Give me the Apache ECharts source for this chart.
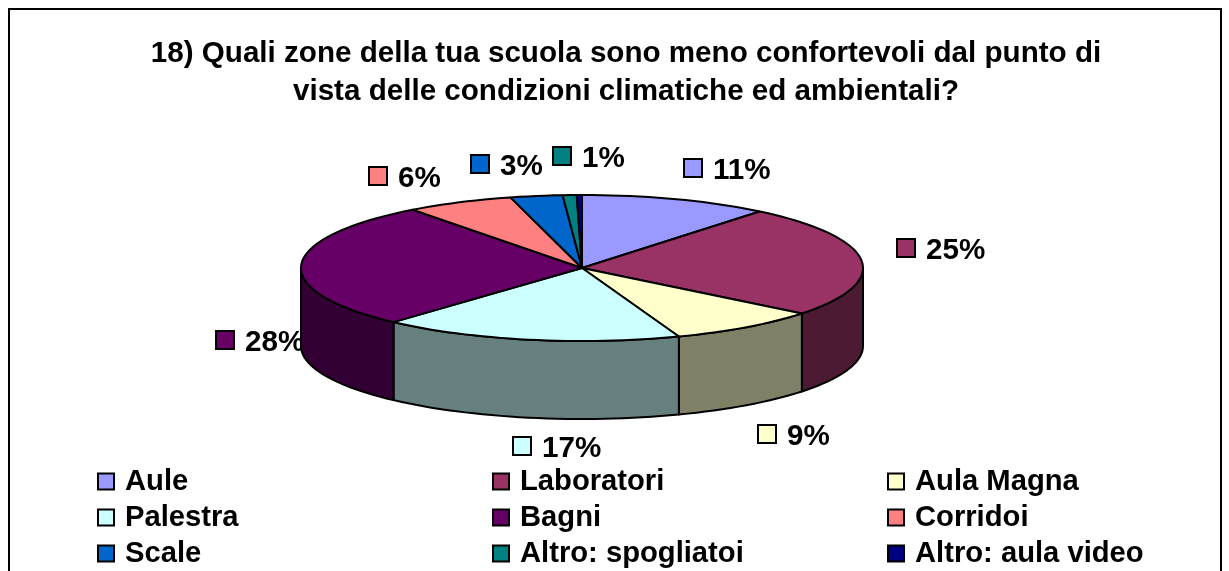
<!DOCTYPE html>
<html>
<head>
<meta charset="utf-8">
<title>Zone meno confortevoli</title>
<style>
  html, body { margin: 0; padding: 0; background: #fff; }
  #chart { width: 1229px; height: 571px; }
</style>
<script src="https://cdn.jsdelivr.net/npm/echarts@6/dist/echarts.min.js"></script>
</head>
<body>
<div id="chart"></div>
<script>
var titleText = "18) Quali zone della tua scuola sono meno confortevoli dal punto di\nvista delle condizioni climatiche ed ambientali?";
var categories = ["Aule", "Laboratori", "Aula Magna", "Palestra", "Bagni", "Corridoi", "Scale", "Altro: spogliatoi", "Altro: aula video"];
var shares = [10.9, 24.8, 8.7, 17.3, 28, 6.2, 3, 0.8, 0.3];
var topColors = ["#9999FF", "#993366", "#FFFFCC", "#CCFFFF", "#660066", "#FF8080", "#0066CC", "#008080", "#000080"];
var wallColors = ["#4D4D80", "#4D1A33", "#808066", "#668080", "#330033", "#804040", "#003366", "#004040", "#000040"];
// where each percent label sits (left edge of the key square, middle y)
var labelX = [684, 897, 758, 513, 216, 369, 471, 553, 0];
var labelY = [168, 248, 434, 446, 340, 176, 164, 156, 0];

var FONT = "'Liberation Sans', Arial, sans-serif";
var cx = 582, cy = 268, rx = 281, ry = 73, depth = 78;

var total = shares.reduce(function(a, b) { return a + b; }, 0);
var startAngles = [];
shares.reduce(function(sum, v, i) {
  startAngles[i] = (sum / total) * 360;
  return sum + v;
}, 0);

function rimPoint(deg, drop) {
  var r = (deg * Math.PI) / 180;
  return [cx + rx * Math.sin(r), cy - ry * Math.cos(r) + (drop || 0)];
}

function arcPoints(from, to, drop) {
  var pts = [];
  var steps = Math.max(2, Math.ceil((to - from) / 2));
  for (var i = 0; i <= steps; i++) {
    pts.push(rimPoint(from + ((to - from) * i) / steps, drop));
  }
  return pts;
}

function renderSlice(index) {
  var from = startAngles[index];
  var to = from + (shares[index] / total) * 360;
  var children = [];
  // only the part of the rim facing the viewer gets a wall
  var wallFrom = Math.max(from, 90);
  var wallTo = Math.min(to, 270);
  if (wallTo > wallFrom) {
    var wall = arcPoints(wallFrom, wallTo, 0).concat(arcPoints(wallFrom, wallTo, depth).reverse());
    children.push({
      type: "polygon",
      shape: { points: wall },
      style: { fill: wallColors[index], stroke: "#000", lineWidth: 2, lineJoin: "round" }
    });
  }
  children.push({
    type: "polygon",
    shape: { points: [[cx, cy]].concat(arcPoints(from, to, 0)) },
    style: { fill: topColors[index], stroke: "#000", lineWidth: 2, lineJoin: "round" }
  });
  return { type: "group", children: children };
}

function renderLabel(params) {
  var i = params.dataIndex;
  var pct = Math.round((shares[i] / total) * 100);
  if (pct < 1) return null;
  return {
    type: "group",
    children: [
      {
        type: "rect",
        shape: { x: labelX[i], y: labelY[i] - 9, width: 18, height: 18 },
        style: { fill: topColors[i], stroke: "#000", lineWidth: 2 }
      },
      {
        type: "text",
        style: {
          x: labelX[i] + 29,
          y: labelY[i] + 3,
          text: pct + "%",
          fill: "#000",
          font: "bold 29.6px " + FONT,
          verticalAlign: "middle"
        }
      }
    ]
  };
}

var sliceSeries = categories.map(function(name, i) {
  return {
    type: "custom",
    name: name,
    coordinateSystem: "none",
    z: 5,
    silent: true,
    animation: false,
    itemStyle: { color: topColors[i], borderColor: "#000", borderWidth: 2 },
    data: [shares[i]],
    renderItem: function() {
      return renderSlice(i);
    }
  };
});

var labelSeries = {
  type: "custom",
  name: "labels",
  coordinateSystem: "none",
  z: 2,
  silent: true,
  animation: false,
  data: shares,
  renderItem: renderLabel
};

function legendColumn(left, names) {
  return {
    left: left,
    top: 467,
    height: 200,
    orient: "vertical",
    selectedMode: false,
    icon: "rect",
    itemWidth: 16,
    itemHeight: 16,
    itemGap: 7,
    padding: 0,
    data: names,
    textStyle: {
      color: "#000",
      fontFamily: FONT,
      fontWeight: "bold",
      fontSize: 29.2,
      lineHeight: 26,
      padding: [0, 0, 0, 6]
    }
  };
}

var option = {
  backgroundColor: "#fff",
  animation: false,
  title: {
    text: titleText,
    left: 621,
    top: 30,
    textAlign: "center",
    textStyle: {
      color: "#000",
      fontFamily: FONT,
      fontWeight: "bold",
      fontSize: 29.6,
      lineHeight: 38
    }
  },
  legend: [
    legendColumn(97, [categories[0], categories[3], categories[6]]),
    legendColumn(492, [categories[1], categories[4], categories[7]]),
    legendColumn(887, [categories[2], categories[5], categories[8]])
  ],
  graphic: [
    {
      type: "rect",
      z: 0,
      shape: { x: 9, y: 9, width: 1212, height: 600 },
      style: { fill: "#fff", stroke: "#000", lineWidth: 2 }
    }
  ],
  series: [labelSeries].concat(sliceSeries)
};

var myChart = echarts.init(document.getElementById("chart"), null, { renderer: "canvas" });
myChart.setOption(option);
</script>
</body>
</html>
